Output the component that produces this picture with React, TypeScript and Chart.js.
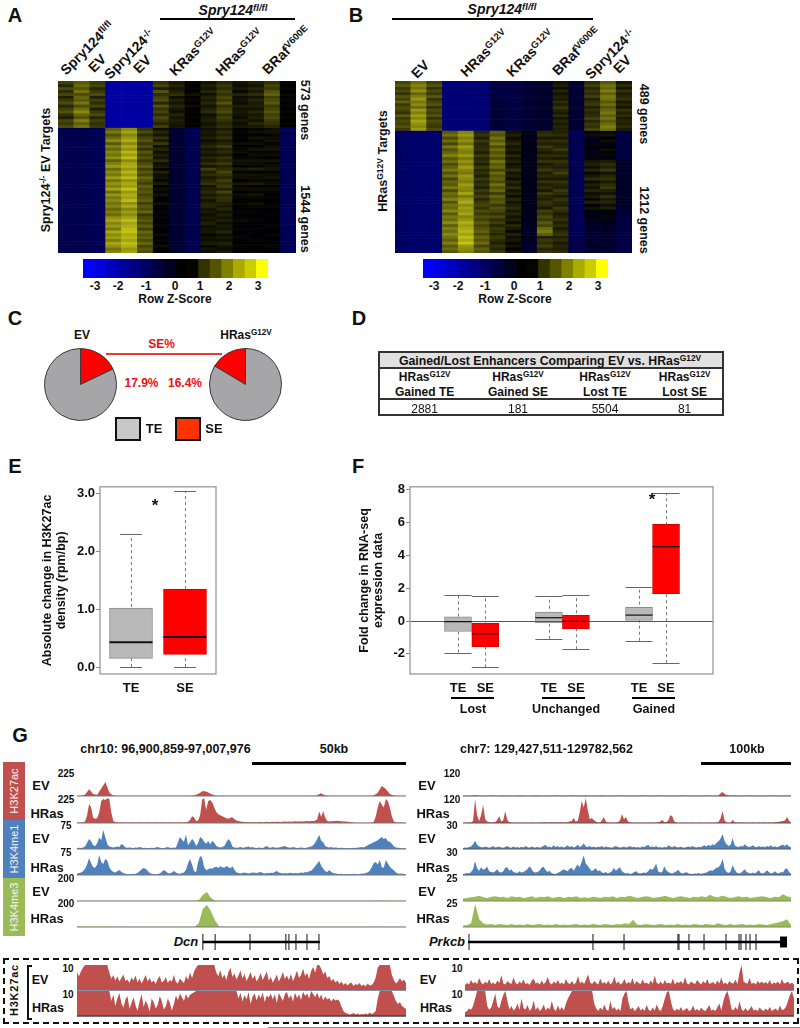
import React, { useEffect, useRef } from "react";
import { Chart, registerables } from "chart.js";
Chart.register(...registerables);

const FONT = '"Liberation Sans", Arial, sans-serif';

// ---------- Heatmap A (row z-score x 10)
const heatAGenes = [573, 1544];
const heatATop = [
  [10,14,9,-22,-22,-22,8,4,1,3,6,3,5,8,1],
  [6,17,11,-22,-22,-22,11,6,0,5,9,2,3,11,0],
  [12,13,6,-22,-22,-22,5,3,1,3,7,4,6,9,1],
  [7,18,9,-22,-22,-22,13,5,0,6,10,1,4,13,0],
  [11,12,12,-22,-22,-22,7,7,2,2,8,5,7,15,1],
  [5,16,5,-22,-22,-22,10,2,0,5,11,2,3,10,0],
  [9,14,10,-22,-22,-22,12,5,1,4,9,3,6,12,1],
  [12,19,7,-22,-22,-22,6,3,0,6,13,2,4,14,0],
  [6,12,11,-22,-22,-22,13,6,2,3,8,5,5,9,1],
  [10,17,5,-22,-22,-22,8,4,0,5,10,3,3,11,0],
  [13,22,9,-22,-22,-22,11,2,1,7,12,4,6,13,1],
  [8,16,12,-22,-22,-22,7,6,0,2,7,3,4,10,0],
  [5,13,6,-22,-22,-22,12,3,1,4,10,2,5,12,1],
  [11,20,10,-22,-22,-22,9,5,0,5,8,4,3,9,0],
  [9,15,8,-22,-22,-22,6,4,1,3,6,2,6,8,1],
  [12,18,9,-22,-22,-22,10,3,0,4,7,3,4,6,0],
];
const heatABottom = [
  [-11,-11,-12,15,22,8,2,-7,-11,2,4,0,1,2,-12],
  [-11,-10,-12,19,26,12,6,-6,-11,4,7,1,2,3,-12],
  [-10,-11,-12,13,21,7,3,-7,-11,3,5,-1,0,1,-11],
  [-11,-11,-11,17,24,11,8,-7,-11,5,8,1,3,2,-12],
  [-11,-10,-12,22,28,13,4,-6,-10,2,4,0,1,3,-12],
  [-10,-11,-12,14,22,9,9,-7,-11,4,6,2,2,1,-11],
  [-11,-11,-12,20,27,12,3,-7,-11,6,9,0,0,2,-12],
  [-11,-10,-11,16,23,8,6,-6,-11,3,5,1,3,3,-12],
  [-10,-11,-12,21,29,14,2,-7,-11,5,7,2,1,1,-11],
  [-11,-11,-12,18,25,10,5,-7,-10,3,4,0,2,2,-12],
  [-11,-10,-12,23,30,13,3,-6,-11,6,8,1,1,0,-12],
  [-10,-11,-11,15,22,9,7,-7,-11,4,6,3,3,3,-11],
  [-11,-11,-12,20,26,12,2,-7,-11,7,9,2,2,1,-12],
  [-11,-10,-12,24,28,15,4,-6,-10,3,5,0,1,2,-12],
  [-10,-11,-12,17,24,10,1,-7,-11,10,7,4,5,3,-11],
  [-11,-11,-11,22,29,14,5,-7,-11,5,11,1,0,1,-12],
  [-11,-10,-12,19,25,11,2,-6,-11,7,8,3,3,2,-12],
  [-10,-11,-12,25,30,16,3,-7,-10,4,6,2,2,3,-11],
  [-11,-11,-12,18,23,13,1,-7,-11,6,10,0,1,1,-12],
  [-11,-10,-12,23,27,10,4,-6,-11,8,7,3,4,2,-12],
  [-10,-11,-11,20,25,15,0,-7,-11,3,9,1,0,0,-11],
  [-11,-11,-12,26,31,12,2,-7,-10,5,5,2,2,2,-12],
  [-11,-10,-12,17,24,14,1,-6,-11,7,11,0,1,1,-12],
  [-10,-11,-12,24,28,11,3,-7,-11,4,6,2,3,-1,-11],
  [-11,-11,-11,19,26,13,0,-7,-11,6,8,1,1,1,-12],
  [-11,-10,-12,22,30,15,-1,-6,-10,3,7,-1,0,0,-12],
  [-10,-11,-12,18,23,10,2,-7,-11,5,5,1,2,-1,-11],
  [-11,-11,-12,21,27,14,0,-7,-11,6,4,0,1,1,-12],
  [-11,-10,-11,16,21,12,-1,-6,-11,3,6,-1,-1,0,-12],
  [-10,-11,-12,20,25,16,1,-7,-10,4,3,1,1,-1,-11],
  [-11,-11,-12,17,22,9,-1,-7,-11,2,5,-2,0,1,-12],
  [-11,-10,-12,23,26,12,1,-6,-11,4,3,1,-2,0,-12],
  [-10,-11,-11,26,30,14,0,-7,-11,3,5,2,1,-1,-11],
  [-11,-11,-12,21,26,11,-2,-7,-10,5,2,0,-1,0,-12],
  [-11,-10,-12,24,28,15,1,-6,-11,2,4,-1,0,1,-12],
  [-10,-11,-12,19,30,10,-1,-7,-11,3,3,1,1,-1,-11],
  [-11,-11,-11,27,31,16,0,-7,-11,4,6,0,-2,0,-12],
  [-11,-10,-12,22,27,13,2,-6,-10,1,2,-2,0,1,-12],
  [-10,-11,-12,25,29,15,-1,-7,-11,3,4,1,-1,-1,-11],
  [-11,-11,-12,20,26,12,1,-7,-11,2,2,-1,1,0,-12],
  [-11,-10,-12,26,30,16,-1,-6,-11,4,5,0,0,-1,-12],
  [-10,-11,-11,23,28,11,2,-7,-10,1,3,1,-1,1,-11],
  [-11,-11,-12,18,24,14,0,-7,-11,3,2,-1,0,0,-12],
  [-11,-10,-12,21,26,12,-1,-6,-11,2,4,0,1,-1,-12],
];

// ---------- Heatmap B (row z-score x 10)
const heatBGenes = [489, 1212];
const heatBTop = [
  [11,17,10,-16,-16,-16,-9,-9,-7,-6,3,-7,7,14,4],
  [14,21,13,-16,-16,-16,-9,-9,-7,-6,5,-7,10,18,7],
  [9,18,8,-16,-16,-15,-8,-9,-7,-6,2,-7,6,16,3],
  [12,23,12,-16,-16,-16,-9,-9,-7,-6,6,-7,9,20,8],
  [8,16,9,-16,-16,-15,-9,-9,-7,-6,3,-7,7,15,5],
  [13,20,14,-16,-16,-16,-8,-9,-7,-6,5,-7,10,19,6],
  [10,24,8,-16,-16,-16,-9,-9,-7,-6,4,-7,5,18,8],
  [15,19,11,-16,-16,-15,-8,-9,-7,-6,7,-7,8,14,4],
  [9,22,13,-16,-16,-16,-8,-9,-7,-6,5,-7,9,17,6],
  [12,17,8,-16,-16,-16,-7,-9,-7,-6,8,-7,5,13,3],
  [11,24,12,-16,-16,-16,-8,-9,-7,-6,6,-7,8,16,8],
  [8,20,10,-16,-16,-15,-7,-9,-7,-6,4,-7,6,19,5],
  [14,25,13,-16,-16,-16,-7,-9,-7,-6,7,-7,7,15,7],
  [9,21,8,-16,-16,-16,-8,-9,-7,-6,3,-7,10,18,4],
  [12,26,12,-16,-16,-15,-7,-9,-7,-6,6,-7,6,14,6],
  [10,23,10,-16,-16,-16,-8,-9,-7,-6,4,-7,9,17,5],
  [13,21,9,-16,-16,-16,-7,-9,-7,-6,6,-7,8,20,7],
  [9,24,12,-16,-16,-16,-8,-9,-7,-6,5,-7,11,18,4],
];
const heatBBottom = [
  [-14,-15,-15,14,21,6,15,3,-3,6,5,-12,-3,1,-8],
  [-14,-14,-15,18,24,8,13,5,-4,8,7,-12,2,3,-9],
  [-13,-15,-15,12,20,5,18,2,-3,4,4,-12,-5,-1,-10],
  [-14,-14,-15,17,23,9,14,4,-4,7,8,-11,-2,2,-8],
  [-14,-15,-15,11,18,6,19,6,-3,5,5,-12,-4,-3,-9],
  [-13,-14,-15,19,25,7,12,3,-4,9,6,-12,0,0,-10],
  [-14,-15,-15,13,21,8,17,5,-3,6,9,-11,-3,2,-8],
  [-14,-14,-15,16,20,5,13,2,-4,4,5,-12,-5,-2,-9],
  [-13,-15,-15,20,24,9,16,6,-3,7,7,-12,1,1,-10],
  [-14,-14,-15,14,19,6,12,3,-4,5,4,-11,-4,-4,-8],
  [-14,-15,-15,17,23,7,18,5,-3,8,8,-12,3,4,-6],
  [-13,-14,-15,12,20,5,14,2,-4,4,6,-12,5,7,-5],
  [-14,-15,-15,15,25,9,16,4,-3,6,5,-11,2,5,-6],
  [-14,-14,-15,19,21,6,11,7,-4,9,7,-12,6,9,-4],
  [-13,-15,-15,13,19,8,17,3,-3,5,10,-12,1,3,-7],
  [-14,-14,-15,18,24,5,13,5,-4,7,6,-11,4,6,-5],
  [-14,-15,-15,11,22,9,15,2,-3,4,4,-12,7,8,-6],
  [-13,-14,-15,16,20,6,12,6,-4,8,8,-12,2,4,-4],
  [-14,-15,-15,14,25,8,18,4,-3,5,6,-11,5,7,-6],
  [-14,-14,-15,19,22,5,13,7,-4,7,5,-12,3,9,-5],
  [-13,-15,-15,12,21,9,16,3,-3,4,9,-12,6,5,-7],
  [-14,-14,-15,17,26,7,10,5,-4,9,7,-11,2,3,-5],
  [-14,-15,-15,15,19,10,15,2,-3,6,4,-12,4,7,-6],
  [-13,-14,-14,20,24,6,12,6,-4,5,8,-12,1,4,-4],
  [-14,-15,-15,13,27,9,14,3,-3,8,6,-11,5,6,-7],
  [-14,-14,-15,18,22,11,9,5,-4,7,5,-12,-1,2,-5],
  [-13,-15,-15,16,25,8,13,7,-3,4,9,-12,3,5,-6],
  [-14,-14,-15,21,23,12,11,4,-4,10,7,-11,-2,0,-8],
  [-14,-15,-15,14,26,9,8,6,-3,8,4,-12,-4,-3,-7],
  [-13,-14,-15,19,21,13,12,3,-4,12,6,-12,-1,1,-9],
  [-14,-15,-14,17,24,10,7,5,-4,9,8,-11,-5,-4,-8],
  [-14,-14,-15,22,28,14,10,2,-3,14,5,-12,-3,-2,-10],
  [-13,-15,-15,15,25,11,6,6,-5,11,7,-12,-6,-5,-8],
  [-14,-14,-15,20,27,13,9,4,-4,17,4,-11,-4,-6,-10],
  [-14,-15,-14,17,29,15,8,1,-6,19,6,-12,-7,-4,-9],
  [-13,-14,-15,21,26,12,6,5,-5,15,8,-11,-5,-7,-10],
  [-14,-15,-15,18,30,16,9,2,-4,5,5,-11,-8,-6,-9],
  [-14,-14,-15,15,27,13,7,4,-6,9,7,-11,-6,-5,-10],
  [-13,-15,-14,20,31,17,5,1,-5,7,4,-10,-7,-8,-9],
  [-14,-14,-15,14,24,11,8,3,-7,10,6,-10,-5,-6,-10],
  [-14,-15,-15,17,22,15,6,0,-5,6,5,-10,-8,-5,-10],
  [-13,-14,-14,13,20,13,9,3,-7,8,7,-10,-6,-7,-9],
];

// ---------- Colour key
const keyColors = ["#0000FF","#0000E0","#0000C0","#0000A0","#000080","#000060","#000040","#000020","#000000","#050500","#333300","#555500","#7F7F00","#AAAA00","#CCCC00","#FFFF00"];
const keyTicks = ["-3","-2","-1","0","1","2","3"];
const keyTickXA = [95,118,146,175,200,229,258];
const keyTickXB = [434,458,485,514,540,569,598];

// ---------- Pies
const pieLabels = ["SE","TE"];
const pieEV = [17.9, 82.1];
const pieHRas = [16.4, 83.6];

// ---------- Table
const tableHeads = [["Gained TE"],["Gained SE"],["Lost TE"],["Lost SE"]];
const tableValues = ["2881","181","5504","81"];
const tableCols = [424.6,518,605,684.6];

// ---------- Boxes E
const boxEPos = [1,2];
const boxELabels = ["TE","SE"];
const boxEQ1 = [.15,.22];
const boxEQ3 = [1.02,1.35];
const boxEMed = [.43,.52];
const boxELo = [0,0];
const boxEHi = [2.30,3.04];
// ---------- Boxes F
const boxFPos = [1,2,4.33,5.32,7.63,8.62];
const boxFLabels = ["TE","SE","TE","SE","TE","SE"];
const boxFQ1 = [-.64,-1.56,-.12,-.48,0,1.66];
const boxFQ3 = [.26,-.12,.54,.34,.84,5.9];
const boxFMed = [-.04,-.78,.2,-.02,.36,4.53];
const boxFLo = [-1.92,-2.83,-1.08,-1.72,-1.2,-2.57];
const boxFHi = [1.56,1.5,1.52,1.56,2.08,7.78];
const boxColors = ["#b9b9b9","#ff0000"];

// ---------- Tracks (percent of track scale)
const k27EvL = [1,1,6,26,8,5,30,54,12,2,1,1,1,1,1,1,1,1,1,1,1,1,1,1,1,1,1,1,1,3,10,19,16,8,2,1,1,1,1,1,1,1,1,1,1,1,1,1,1,1,1,1,1,1,1,1,1,1,1,2,11,3,1,1,1,1,1,1,1,1,1,1,1,2,12,38,28,8,2,1,1,1];
const k27HrL = [1,2,2,3,6,30,74,60,20,16,18,40,85,92,88,95,92,40,8,4,3,2,3,2,2,2,2,3,2,2,2,3,2,2,2,3,2,2,2,3,2,2,3,2,2,2,3,2,2,2,2,3,2,2,3,5,12,26,22,8,10,30,90,95,50,85,88,80,60,42,34,30,26,22,18,16,20,22,14,10,8,6,5,4,4,3,3,3,4,3,4,4,3,4,5,4,4,5,4,5,5,4,5,6,5,6,5,6,7,6,6,7,6,7,8,7,8,8,9,14,44,24,46,20,8,6,8,7,8,9,8,7,6,6,5,4,3,2,1,1,1,1,1,1,1,1,2,4,25,60,85,70,60,92,85,60,25,6,3,2,2,2,1,2];
const me1EvL = [4,5,4,6,10,24,38,30,14,12,22,44,34,73,46,18,10,8,6,8,10,8,19,14,6,5,6,5,4,6,5,8,6,4,5,4,3,5,4,6,8,5,4,3,6,8,5,4,6,5,26,46,36,28,56,14,26,38,30,12,24,46,40,28,20,31,18,31,24,12,8,6,8,12,26,38,30,10,6,5,6,8,5,6,8,10,6,8,5,4,6,5,4,8,12,6,5,8,6,5,6,8,10,12,8,6,5,8,6,4,5,6,5,4,6,8,10,14,24,38,54,32,26,12,8,6,8,5,6,5,4,5,4,3,4,3,4,5,4,6,6,8,6,10,14,18,22,26,30,34,40,46,38,42,30,28,20,10,6,5,4,3,4,3];
const me1HrL = [6,8,10,14,24,40,65,45,30,28,40,77,50,42,62,56,30,18,12,10,14,19,12,8,5,4,3,5,4,5,8,14,22,27,24,16,8,5,4,3,4,6,12,19,14,8,6,10,15,10,6,5,8,10,20,44,62,40,14,12,50,73,66,30,18,22,26,24,30,32,27,34,30,28,35,30,26,34,20,10,8,6,8,10,8,6,8,10,9,8,10,12,8,6,8,7,9,8,12,15,10,8,6,8,6,8,9,6,8,7,8,10,8,12,10,14,16,24,34,44,54,36,24,14,12,19,12,8,6,5,4,5,3,4,3,4,3,5,4,3,4,6,5,8,10,16,30,45,50,40,58,30,28,58,44,32,24,18,10,6,5,6,4,3];
const me3EvL = [1,1,1,1,1,1,1,1,1,1,1,1,1,1,1,1,1,1,1,1,1,1,1,1,1,1,1,1,1,1,4,24,35,12,2,1,1,1,1,1,1,1,1,1,1,1,1,1,1,1,1,1,1,1,1,1,1,1,1,1,1,1,1,1,1,1,1,1,1,1,1,1,1,1,1,2,1,1,1,1,1,1];
const me3HrL = [2,2,2,2,2,2,2,2,2,2,1,1,1,1,1,1,1,1,1,1,1,1,1,1,1,1,1,1,1,1,15,70,85,60,25,3,1,1,1,1,1,1,1,1,1,1,1,1,1,1,1,1,1,1,1,1,1,1,1,1,1,1,1,1,1,1,1,1,1,1,1,1,1,1,1,2,1,1,1,1,1,1];
const k27EvR = [1,1,1,3,1,1,1,2,1,1,2,1,1,1,2,1,1,1,2,1,1,1,1,2,1,1,1,2,1,1,2,1,1,1,2,1,1,1,1,2,1,1,1,1,2,1,1,1,2,1,1,1,1,1,2,1,1,1,1,1,2,1,1,1,15,4,1,2,1,1,1,2,1,1,1,1,2,1,1,1,2,1];
const k27HrR = [1,1,1,2,2,8,92,30,8,30,70,15,6,3,2,2,4,12,27,6,10,46,12,3,2,1,1,2,1,1,1,2,1,1,2,1,1,1,2,2,2,3,2,2,3,3,2,3,2,3,2,2,3,6,8,19,6,8,40,85,60,96,50,14,19,12,6,2,2,10,23,6,2,1,2,1,2,3,10,35,14,23,6,2,2,1,1,2,1,1,1,1,1,2,1,1,2,3,6,12,4,3,10,30,26,6,2,1,1,1,1,1,1,1,2,1,1,1,2,1,1,1,1,2,1,1,2,4,18,46,10,2,1,2,12,4,2,1,2,2,1,2,1,1,2,1,1,2,1,2,2,1,2,1,2,3,4,5,6,8,10,23,10,2];
const me1EvR = [4,6,5,8,10,18,32,16,10,8,6,10,8,5,8,12,6,8,10,6,5,8,12,7,5,10,6,8,5,9,6,12,8,5,10,7,6,9,5,8,12,16,8,10,6,14,8,12,7,10,6,9,14,8,12,6,10,16,8,12,22,10,8,12,7,10,6,9,8,12,6,10,8,7,5,9,12,8,6,7,10,6,8,12,7,9,6,8,5,10,8,12,16,8,10,7,12,6,8,5,9,6,14,10,7,12,8,6,9,7,5,8,10,7,12,8,6,9,7,11,14,10,16,12,18,14,24,30,40,58,30,18,12,16,42,14,10,8,12,10,18,12,8,10,14,9,7,12,8,10,7,12,9,14,8,11,7,10,14,16,12,18,10,7];
const me1HrR = [4,5,8,6,12,22,54,26,16,30,20,24,32,14,12,10,14,22,12,10,14,28,30,16,22,12,10,8,14,10,12,16,22,34,24,12,10,12,16,28,32,20,12,16,8,5,4,8,12,16,22,18,14,24,28,16,30,40,30,50,76,44,36,24,14,20,26,14,18,10,8,12,6,10,14,28,16,24,30,14,10,6,8,4,6,12,14,8,6,8,10,8,14,24,20,28,44,14,10,12,34,18,12,8,6,10,14,20,10,6,8,12,6,5,4,6,5,8,4,6,8,10,14,18,16,22,28,30,40,62,24,12,8,14,38,20,10,6,8,14,22,12,8,6,10,6,12,18,8,6,10,18,12,6,8,14,8,6,12,10,22,26,12,6];
const me3EvR = [10,12,14,16,20,14,12,16,18,14,16,12,18,14,16,12,14,18,12,16,14,18,12,14,16,12,16,14,18,12,14,12,16,14,12,16,14,18,12,16,14,20,16,12,14,18,16,12,14,16,20,14,12,16,18,14,12,16,14,18,14,24,16,14,20,16,12,14,18,14,16,12,14,16,18,14,12,16,14,26,18,14];
const me3HrR = [6,8,14,88,30,14,10,12,8,12,10,8,12,8,10,8,12,8,10,12,8,10,8,12,8,10,8,10,12,8,10,8,12,10,8,12,10,8,12,10,14,12,28,10,8,12,10,8,10,12,8,10,8,12,8,10,8,12,10,8,12,10,8,14,10,8,12,8,10,12,8,10,8,12,10,8,12,14,18,22,30,8];
const zoomEvL = [70,55,75,90,100,100,100,100,100,100,100,100,100,100,100,100,70,45,60,38,55,34,48,62,36,42,28,50,38,58,30,46,26,42,60,34,48,30,38,24,44,56,30,36,52,28,40,34,60,32,26,46,36,28,56,40,70,48,74,90,100,100,100,100,100,100,100,100,100,70,55,80,48,62,40,70,90,52,66,42,58,78,46,64,36,52,72,44,60,34,48,68,40,56,74,38,52,30,44,62,34,50,72,44,58,40,64,36,54,78,48,60,86,56,68,44,76,92,70,100,100,85,62,74,48,56,36,44,30,38,24,34,20,28,18,26,30,16,24,20,28,16,22,14,26,18,20,30,50,90,100,100,100,100,100,100,60,40,26,34,48,34,42,28];
const zoomHrL = [100,100,100,100,100,100,100,100,100,100,100,100,100,100,100,100,100,60,85,40,70,92,50,34,66,80,28,52,75,42,20,58,88,36,62,45,18,70,55,30,44,80,60,26,38,70,52,22,48,82,64,90,74,60,88,70,85,90,95,100,100,100,100,100,100,100,100,100,100,100,100,100,100,100,100,100,100,100,100,100,70,92,58,84,66,96,48,78,90,62,86,70,94,56,82,74,90,66,88,52,92,76,60,88,96,70,84,58,94,72,86,64,98,80,90,70,100,88,76,94,70,86,62,78,66,72,58,70,62,66,60,38,20,12,10,6,8,12,6,10,5,8,6,10,6,14,8,12,20,70,100,100,100,100,100,100,100,80,60,48,56,40,34,28];
const zoomEvR = [20,28,22,40,26,32,24,48,30,22,34,26,44,24,30,22,38,28,60,26,22,36,28,24,50,30,22,34,26,42,24,28,20,36,46,26,30,22,38,24,32,52,28,22,34,26,40,24,30,22,44,28,24,36,22,30,56,26,34,24,42,62,30,24,36,28,22,46,26,32,24,38,22,30,54,26,34,22,28,44,24,32,26,48,22,36,28,24,42,26,30,22,38,26,58,28,24,34,22,40,26,30,24,46,22,32,28,36,24,52,26,22,34,28,24,40,30,22,36,26,44,24,28,32,22,38,26,50,24,30,22,36,28,26,42,24,70,100,34,28,26,48,24,30,22,36,26,34,26,32,24,40,22,30,26,34,22,44,26,28,34,24,30,22];
const zoomHrR = [15,20,30,25,40,70,100,100,100,100,100,40,25,34,60,90,40,30,60,85,100,60,26,40,22,30,50,24,70,32,26,44,20,30,62,24,36,20,28,46,22,34,26,60,30,20,42,24,36,22,50,70,85,100,100,100,100,100,100,100,100,100,100,100,50,30,20,34,24,45,26,20,60,28,36,22,30,20,70,90,100,55,26,34,20,28,40,22,30,20,44,24,20,34,22,46,26,20,40,70,95,100,60,28,20,30,22,36,20,26,32,20,24,42,22,28,20,34,24,20,30,44,22,26,20,34,50,22,60,85,100,70,28,22,36,24,60,26,20,32,20,28,40,22,26,20,34,24,20,30,22,36,20,26,30,20,42,24,26,36,60,85,100,70];

// ---------- Genes (kb from the left edge of the window)
const dcnSpan = [41.1,79.3];
const dcnExons = [41.1,45.1,56.5,68.2,69.2,71.5,75.1,79];
const dcnWindow = 107.1;
const prkcbSpan = [5.4,350.7];
const prkcbExons = [6.5,140.7,174.3,232.7,233.8,244.6,260.9,284.7,298.8,300.9,306.3,310.7,317.2];
const prkcbLast = [343.2,350.7];
const prkcbWindow = 355.05;

const RED = "#c0504d", BLUE = "#4f81bd", GREEN = "#9bbb59";

function zColor(z: number) {
  const v = Math.min(255, Math.round((Math.abs(z) / 35) * 255));
  if (z < 0) return `rgb(0,0,${v})`;
  const y = Math.round(v * 0.86);
  return `rgb(${y},${y},${Math.round(v * 0.1)})`;
}

const baseOpts: any = {
  responsive: false,
  animation: false,
  devicePixelRatio: 1,
  events: [],
};
const noPlug = { legend: { display: false }, tooltip: { enabled: false } };

function ChartBox({ x, y, w, h, config }: any) {
  const ref = useRef<HTMLCanvasElement>(null);
  useEffect(() => {
    const c = new Chart(ref.current as any, config());
    return () => c.destroy();
  }, []);
  return <canvas ref={ref} width={w} height={h} style={{ position: "absolute", left: x, top: y, width: w, height: h, display: "block" }} />;
}

function heatConfig(top: number[][], bottom: number[][], genes: number[]) {
  const rows = [...top, ...bottom];
  const weights = [...top.map(() => genes[0] / top.length), ...bottom.map(() => genes[1] / bottom.length)];
  const labels = rows[0].map((_, i) => String(i + 1));
  return () => ({
    type: "bar",
    data: {
      labels,
      datasets: rows.map((r, i) => ({
        data: r.map(() => weights[i]),
        backgroundColor: r.map(zColor),
        borderWidth: 0,
        stack: "s",
        barPercentage: 1,
        categoryPercentage: 1,
      })),
    },
    options: {
      ...baseOpts,
      plugins: noPlug,
      scales: {
        x: { display: false, stacked: true },
        y: { display: false, stacked: true, reverse: true, min: 0, max: genes[0] + genes[1] },
      },
    },
  });
}

function keyConfig() {
  return {
    type: "bar",
    data: {
      labels: keyColors.map((_, i) => String(i)),
      datasets: [{ data: keyColors.map(() => 1), backgroundColor: keyColors, borderWidth: 0, barPercentage: 1, categoryPercentage: 1 }],
    },
    options: { ...baseOpts, plugins: noPlug, scales: { x: { display: false }, y: { display: false, min: 0, max: 1 } } },
  };
}

function pieConfig(values: number[], rotation: number) {
  return () => ({
    type: "pie",
    data: {
      labels: pieLabels,
      datasets: [{ data: values, backgroundColor: ["#ff0000", "#a6a6a8"], borderColor: "#3a3a3a", borderWidth: 1 }],
    },
    options: { ...baseOpts, rotation, plugins: noPlug, layout: { padding: 0 } },
  });
}

function boxConfig(o: any) {
  const plugin = {
    id: "boxParts",
    beforeDatasetsDraw(c: any) {
      const { ctx, scales } = c;
      ctx.save();
      ctx.strokeStyle = "#777";
      ctx.lineWidth = 1;
      ctx.setLineDash([3, 3]);
      o.pos.forEach((p: number, i: number) => {
        const px = Math.round(scales.x.getPixelForValue(p)) + 0.5;
        ctx.beginPath();
        ctx.moveTo(px, scales.y.getPixelForValue(o.lo[i]));
        ctx.lineTo(px, scales.y.getPixelForValue(o.hi[i]));
        ctx.stroke();
      });
      ctx.restore();
    },
    afterDatasetsDraw(c: any) {
      const { ctx, scales, chartArea: a } = c;
      ctx.save();
      if (o.zeroLine) {
        ctx.strokeStyle = "#555";
        ctx.lineWidth = 1;
        const py = Math.round(scales.y.getPixelForValue(0)) + 0.5;
        ctx.beginPath();
        ctx.moveTo(a.left, py);
        ctx.lineTo(a.right, py);
        ctx.stroke();
      }
      o.pos.forEach((p: number, i: number) => {
        const px = scales.x.getPixelForValue(p);
        ctx.strokeStyle = "#666";
        ctx.lineWidth = 1;
        [o.lo[i], o.hi[i]].forEach((v: number) => {
          const py = Math.round(scales.y.getPixelForValue(v)) + 0.5;
          ctx.beginPath();
          ctx.moveTo(px - o.cap, py);
          ctx.lineTo(px + o.cap, py);
          ctx.stroke();
        });
        ctx.strokeStyle = "#111";
        ctx.lineWidth = o.medWidth;
        const my = scales.y.getPixelForValue(o.med[i]);
        ctx.beginPath();
        ctx.moveTo(px - o.thick / 2, my);
        ctx.lineTo(px + o.thick / 2, my);
        ctx.stroke();
      });
      ctx.strokeStyle = "#999";
      ctx.lineWidth = 1.3;
      ctx.strokeRect(a.left, a.top, a.right - a.left, a.bottom - a.top);
      ctx.restore();
    },
  };
  return () => ({
    type: "bar",
    data: {
      datasets: [{
        data: o.pos.map((p: number, i: number) => ({ x: p, y: [o.q1[i], o.q3[i]] })),
        backgroundColor: o.pos.map((_: number, i: number) => boxColors[i % 2]),
        borderColor: o.pos.map((_: number, i: number) => (i % 2 ? "#d80000" : "#8c8c8c")),
        borderWidth: 1,
        borderSkipped: false,
        barThickness: o.thick,
      }],
    },
    plugins: [plugin],
    options: {
      ...baseOpts,
      plugins: noPlug,
      layout: { padding: o.padding, autoPadding: false },
      scales: {
        x: {
          type: "linear",
          offset: false,
          min: o.xMin,
          max: o.xMax,
          grid: { display: false, offset: false, drawTicks: false },
          border: { display: false },
          afterBuildTicks: (s: any) => { s.ticks = o.pos.map((v: number) => ({ value: v })); },
          afterFit: (s: any) => { s.height = o.xH; },
          ticks: {
            autoSkip: false,
            maxRotation: 0,
            padding: o.xPad,
            color: "#111",
            font: { family: FONT, size: 13, weight: "bold" },
            callback: (v: number) => o.labels[o.pos.indexOf(v)],
          },
        },
        y: {
          min: o.yMin,
          max: o.yMax,
          afterBuildTicks: (s: any) => { s.ticks = o.yTicks.map((v: number) => ({ value: v })); },
          afterFit: (s: any) => { s.width = o.yW; },
          grid: { drawOnChartArea: false, color: "#888", tickLength: 4 },
          border: { display: false },
          title: {
            display: true,
            text: o.title,
            color: "#111",
            padding: 0,
            font: { family: FONT, size: 12.5, weight: "bold", lineHeight: 1.15 },
          },
          ticks: {
            padding: 1,
            color: "#111",
            font: { family: FONT, size: 13, weight: "bold" },
            callback: (v: number) => (o.yFixed ? Number(v).toFixed(1) : String(v)),
          },
        },
      },
    },
  });
}

function trackConfig(values: number[], color: string, baseColor: string, baseWidth: number) {
  const plugin = {
    id: "baseline",
    afterDatasetsDraw(c: any) {
      const { ctx, chartArea: a, scales } = c;
      ctx.save();
      ctx.strokeStyle = baseColor;
      ctx.lineWidth = baseWidth;
      const py = scales.y.getPixelForValue(0);
      ctx.beginPath();
      ctx.moveTo(a.left, py);
      ctx.lineTo(a.right, py);
      ctx.stroke();
      ctx.restore();
    },
  };
  return () => ({
    type: "line",
    data: {
      labels: values.map((_, i) => i),
      datasets: [{ data: values, borderWidth: 0, pointRadius: 0, fill: "origin", backgroundColor: color, tension: 0 }],
    },
    plugins: [plugin],
    options: {
      ...baseOpts,
      plugins: noPlug,
      layout: { padding: { bottom: 1 }, autoPadding: false },
      scales: { x: { display: false }, y: { display: false, min: 0, max: 100 } },
    },
  });
}

function geneConfig(span: number[], exons: number[], windowKb: number, last?: number[]) {
  const datasets: any[] = [
    { data: span.map((x) => ({ x, y: 0 })), showLine: true, borderColor: "#000", borderWidth: 2.5, pointRadius: 0 },
    { data: exons.map((x) => ({ x, y: 0 })), showLine: false, pointStyle: "line", pointRotation: 90, pointRadius: 8, pointBorderColor: "#111", pointBorderWidth: 1 },
  ];
  if (last) datasets.push({ data: last.map((x) => ({ x, y: 0 })), showLine: true, borderColor: "#000", borderWidth: 11, pointRadius: 0, clip: false, borderCapStyle: "butt" });
  return () => ({
    type: "scatter",
    data: { datasets },
    options: { ...baseOpts, plugins: noPlug, layout: { autoPadding: false }, scales: { x: { type: "linear", display: false, min: 0, max: windowKb }, y: { display: false, min: -1, max: 1 } } },
  });
}

function T({ x, y, children, size = 12, rot = 0, color = "#111", weight = "bold", italic = false, spacing = 0 }: any) {
  return (
    <div style={{
      position: "absolute", left: x, top: y, transform: `translate(-50%,-50%) rotate(${rot}deg)`,
      fontFamily: FONT, fontSize: size, fontWeight: weight, fontStyle: italic ? "italic" : "normal", color,
      whiteSpace: "nowrap", lineHeight: 1, letterSpacing: spacing,
    }}>{children}</div>
  );
}
const Sup = ({ children, size = "0.68em" }: any) => (
  <sup style={{ fontSize: size, lineHeight: 0, verticalAlign: "0.45em", fontWeight: "inherit" }}>{children}</sup>
);
function Rect({ x, y, w, h, bg = "#000", style = {} }: any) {
  return <div style={{ position: "absolute", left: x, top: y, width: w, height: h, background: bg, ...style }} />;
}

const fl = <Sup>fl/fl</Sup>;
const ko = <Sup>-/-</Sup>;

function HeatLabels({ items }: any) {
  return items.map((it: any, i: number) => <T key={i} x={it[0]} y={it[1]} size={14} rot={-45}>{it[2]}</T>);
}

const trackRowsY = [796, 823, 849, 875, 901, 927];
const scaleRowsY = [774, 800, 826, 853, 879, 904];
const labelRowsY = [785, 813, 838, 867, 891, 918];
const rowLabels = ["EV","HRas","EV","HRas","EV","HRas"];
const rowColors = [RED,RED,BLUE,BLUE,GREEN,GREEN];
const leftScales = ["225","225","75","75","200","200"];
const rightScales = ["120","120","30","30","25","25"];
const leftTracks = [k27EvL,k27HrL,me1EvL,me1HrL,me3EvL,me3HrL];
const rightTracks = [k27EvR,k27HrR,me1EvR,me1HrR,me3EvR,me3HrR];
const sideBars = [["H3K27ac",RED,762,58],["H3K4me1",BLUE,820,58],["H3K4me3",GREEN,878,58]];

export default function App() {
  return (
    <div style={{ position: "absolute", left: 0, top: 0, width: 800, height: 1028, overflow: "hidden", background: "#fff" }}>
      {/* A */}
      <T x={15} y={15} size={20}>A</T>
      <T x={233} y={10} size={14} italic>Spry124{fl}</T>
      <Rect x={160} y={18} w={135} h={2} />
      <HeatLabels items={[
        [87,47.5,<>Spry124{fl}</>],[97,62.5,"EV"],[129,53.5,<>Spry124{ko}</>],[141.5,63.5,"EV"],
        [193,52,<>KRas<Sup>G12V</Sup></>],[239,51.5,<>HRas<Sup>G12V</Sup></>],[286,50,<>BRaf<Sup>V600E</Sup></>],
      ]} />
      <ChartBox x={58} y={81} w={238} h={172} config={heatConfig(heatATop, heatABottom, heatAGenes)} />
      <T x={46} y={170} rot={-90} size={12.5}>Spry124{ko} EV Targets</T>
      <T x={305} y={110} rot={90} size={12.5}>573 genes</T>
      <T x={305} y={219} rot={90} size={12.5}>1544 genes</T>
      <ChartBox x={83} y={259} w={185} h={19} config={keyConfig} />
      {keyTicks.map((t, i) => <T key={i} x={keyTickXA[i]} y={286} size={12}>{t}</T>)}
      <T x={175} y={299} size={12}>Row Z-Score</T>

      {/* B */}
      <T x={356} y={15} size={20}>B</T>
      <T x={502} y={9} size={14} italic>Spry124{fl}</T>
      <Rect x={392} y={18} w={201} h={2} />
      <HeatLabels items={[
        [420,68.5,"EV"],[483.5,52.5,<>HRas<Sup>G12V</Sup></>],[529.5,52.5,<>KRas<Sup>G12V</Sup></>],[575.5,51,<>BRaf<Sup>V600E</Sup></>],
        [610,53.5,<>Spry124{ko}</>],[622,64,"EV"],
      ]} />
      <ChartBox x={395} y={81} w={237} h={172} config={heatConfig(heatBTop, heatBBottom, heatBGenes)} />
      <T x={383} y={161} rot={-90} size={12.5}>HRas<Sup>G12V</Sup> Targets</T>
      <T x={644} y={113.5} rot={90} size={12.5}>489 genes</T>
      <T x={644} y={220} rot={90} size={12.5}>1212 genes</T>
      <ChartBox x={423} y={259} w={185} h={19} config={keyConfig} />
      {keyTicks.map((t, i) => <T key={i} x={keyTickXB[i]} y={286} size={12}>{t}</T>)}
      <T x={515} y={299} size={12}>Row Z-Score</T>

      {/* C */}
      <T x={15} y={318} size={20}>C</T>
      <T x={82} y={335} size={12}>EV</T>
      <T x={246} y={335} size={12}>HRas<Sup>G12V</Sup></T>
      <T x={161.5} y={344} size={12} color="#f01010">SE%</T>
      <Rect x={106} y={353} w={116} h={2} bg="#ef3b2c" />
      <T x={141.5} y={383} size={12} color="#f01010">17.9%</T>
      <T x={185} y={383} size={12} color="#f01010">16.4%</T>
      <ChartBox x={44} y={348} w={73} h={73} config={pieConfig(pieEV, 0)} />
      <ChartBox x={209} y={348} w={73} h={73} config={pieConfig(pieHRas, -59)} />
      <Rect x={115} y={417} w={22} h={20} bg="#c8c8c8" style={{ border: "2px solid #111" }} />
      <T x={154} y={428} size={13}>TE</T>
      <Rect x={175} y={417} w={22} h={20} bg="#ff3300" style={{ border: "2px solid #111" }} />
      <T x={214} y={428} size={13}>SE</T>

      {/* D */}
      <T x={359} y={318} size={20}>D</T>
      <Rect x={378} y={351} w={342} h={61} bg="transparent" style={{ border: "2px solid #333" }} />
      <Rect x={380} y={353} w={342} h={14} bg="#e0e0e0" />
      <Rect x={380} y={367} w={342} h={1.5} bg="#333" />
      <Rect x={380} y={398} w={342} h={2} bg="#333" />
      <T x={550} y={361} size={12.3}>Gained/Lost Enhancers Comparing EV vs. HRas<Sup>G12V</Sup></T>
      {tableCols.map((cx, i) => (
        <React.Fragment key={i}>
          <T x={cx} y={377} size={12}>HRas<Sup>G12V</Sup></T>
          <T x={cx} y={392} size={12}>{tableHeads[i][0]}</T>
          <T x={cx} y={409} size={12} weight="normal">{tableValues[i]}</T>
        </React.Fragment>
      ))}

      {/* E */}
      <T x={15} y={466} size={20}>E</T>
      <ChartBox x={40} y={478} w={186} h={226} config={boxConfig({
        pos: boxEPos, labels: boxELabels, q1: boxEQ1, q3: boxEQ3, med: boxEMed, lo: boxELo, hi: boxEHi,
        xMin: 0.426, xMax: 2.574, yMin: -0.12, yMax: 3.12, yTicks: [0,1,2,3], yFixed: true,
        thick: 43, cap: 11, medWidth: 2, padding: { top: 6, right: 10 }, yW: 60, xH: 30, xPad: 7,
        title: ["Absolute change in H3K27ac", "density (rpm/bp)"],
      })} />
      <T x={155} y={505} size={17}>*</T>

      {/* F */}
      <T x={358} y={466} size={20}>F</T>
      <ChartBox x={357} y={478} w={366} h={226} config={boxConfig({
        pos: boxFPos, labels: boxFLabels, q1: boxFQ1, q3: boxFQ3, med: boxFMed, lo: boxFLo, hi: boxFHi,
        xMin: -0.758, xMax: 10.34, yMin: -3.23, yMax: 8.18, yTicks: [-2,0,2,4,6,8], yFixed: false, zeroLine: true,
        thick: 27, cap: 13.5, medWidth: 1.2, padding: { top: 6, right: 10 }, yW: 53, xH: 30, xPad: 7,
        title: ["Fold change in RNA-seq", "expression data"],
      })} />
      <T x={652} y={499} size={17}>*</T>
      <Rect x={451} y={697} w={43} h={2} />
      <Rect x={542} y={697} w={43} h={2} />
      <Rect x={632} y={697} w={43} h={2} />
      <T x={473} y={709} size={12.5}>Lost</T>
      <T x={566} y={709} size={12.5}>Unchanged</T>
      <T x={654} y={709} size={12.5}>Gained</T>

      {/* G */}
      <T x={20} y={735} size={20}>G</T>
      <T x={165.5} y={749} size={12.5}>chr10: 96,900,859-97,007,976</T>
      <T x={334} y={749} size={12.5}>50kb</T>
      <Rect x={252} y={762} w={154} h={3} />
      <T x={546.5} y={749} size={12.5}>chr7: 129,427,511-129782,562</T>
      <T x={747} y={749} size={12.5}>100kb</T>
      <Rect x={701} y={762} w={90} h={3} />
      {sideBars.map((s: any, i) => (
        <React.Fragment key={i}>
          <Rect x={3} y={s[2]} w={22} h={s[3]} bg={s[1]} />
          <T x={14} y={s[2] + s[3] / 2} rot={-90} size={11} color="#f4f4f4" weight="normal">{s[0]}</T>
        </React.Fragment>
      ))}
      {trackRowsY.map((by, i) => (
        <React.Fragment key={i}>
          <ChartBox x={77} y={by - 26} w={329} h={27} config={trackConfig(leftTracks[i], rowColors[i], "#777", 1)} />
          <ChartBox x={463} y={by - 26} w={328} h={27} config={trackConfig(rightTracks[i], rowColors[i], i < 4 ? "#555" : "#7a8a60", 1)} />
          <T x={66} y={scaleRowsY[i]} size={10}>{leftScales[i]}</T>
          <T x={452} y={scaleRowsY[i]} size={10}>{rightScales[i]}</T>
          <T x={rowLabels[i] === "EV" ? 41 : 47} y={labelRowsY[i]} size={13}>{rowLabels[i]}</T>
          <T x={rowLabels[i] === "EV" ? 427 : 433} y={labelRowsY[i]} size={13}>{rowLabels[i]}</T>
        </React.Fragment>
      ))}
      <T x={186} y={941} size={13} italic>Dcn</T>
      <ChartBox x={77} y={932} w={328} h={20} config={geneConfig(dcnSpan, dcnExons, dcnWindow)} />
      <T x={447} y={941} size={13} italic>Prkcb</T>
      <ChartBox x={463} y={932} w={328} h={20} config={geneConfig(prkcbSpan, prkcbExons, prkcbWindow, prkcbLast)} />

      {/* Zoomed H3K27ac */}
      <Rect x={3} y={958} w={792} h={62} bg="transparent" style={{ border: "2.5px dashed #111" }} />
      <T x={14} y={990} rot={-90} size={11} spacing={0.8}>H3K27ac</T>
      <Rect x={27} y={965} w={3} h={51} bg="transparent" style={{ borderLeft: "2px solid #111", borderTop: "2px solid #111", borderBottom: "2px solid #111" }} />
      <T x={40} y={980} size={12.5}>EV</T>
      <T x={48} y={1008} size={12.5}>HRas</T>
      <T x={68} y={969} size={10}>10</T>
      <T x={68} y={995} size={10}>10</T>
      <T x={428} y={980} size={12.5}>EV</T>
      <T x={436} y={1008} size={12.5}>HRas</T>
      <T x={457} y={969} size={10}>10</T>
      <T x={457} y={995} size={10}>10</T>
      <ChartBox x={77} y={965} w={329} h={26} config={trackConfig(zoomEvL, RED, "#5b6f8f", 1.5)} />
      <ChartBox x={77} y={991} w={329} h={26} config={trackConfig(zoomHrL, RED, "#444", 1.5)} />
      <ChartBox x={465} y={965} w={329} h={26} config={trackConfig(zoomEvR, RED, "#5b6f8f", 1.5)} />
      <ChartBox x={465} y={991} w={329} h={26} config={trackConfig(zoomHrR, RED, "#444", 1.5)} />
      <Rect x={268} y={1027} w={532} h={1} bg="#888" />
    </div>
  );
}
